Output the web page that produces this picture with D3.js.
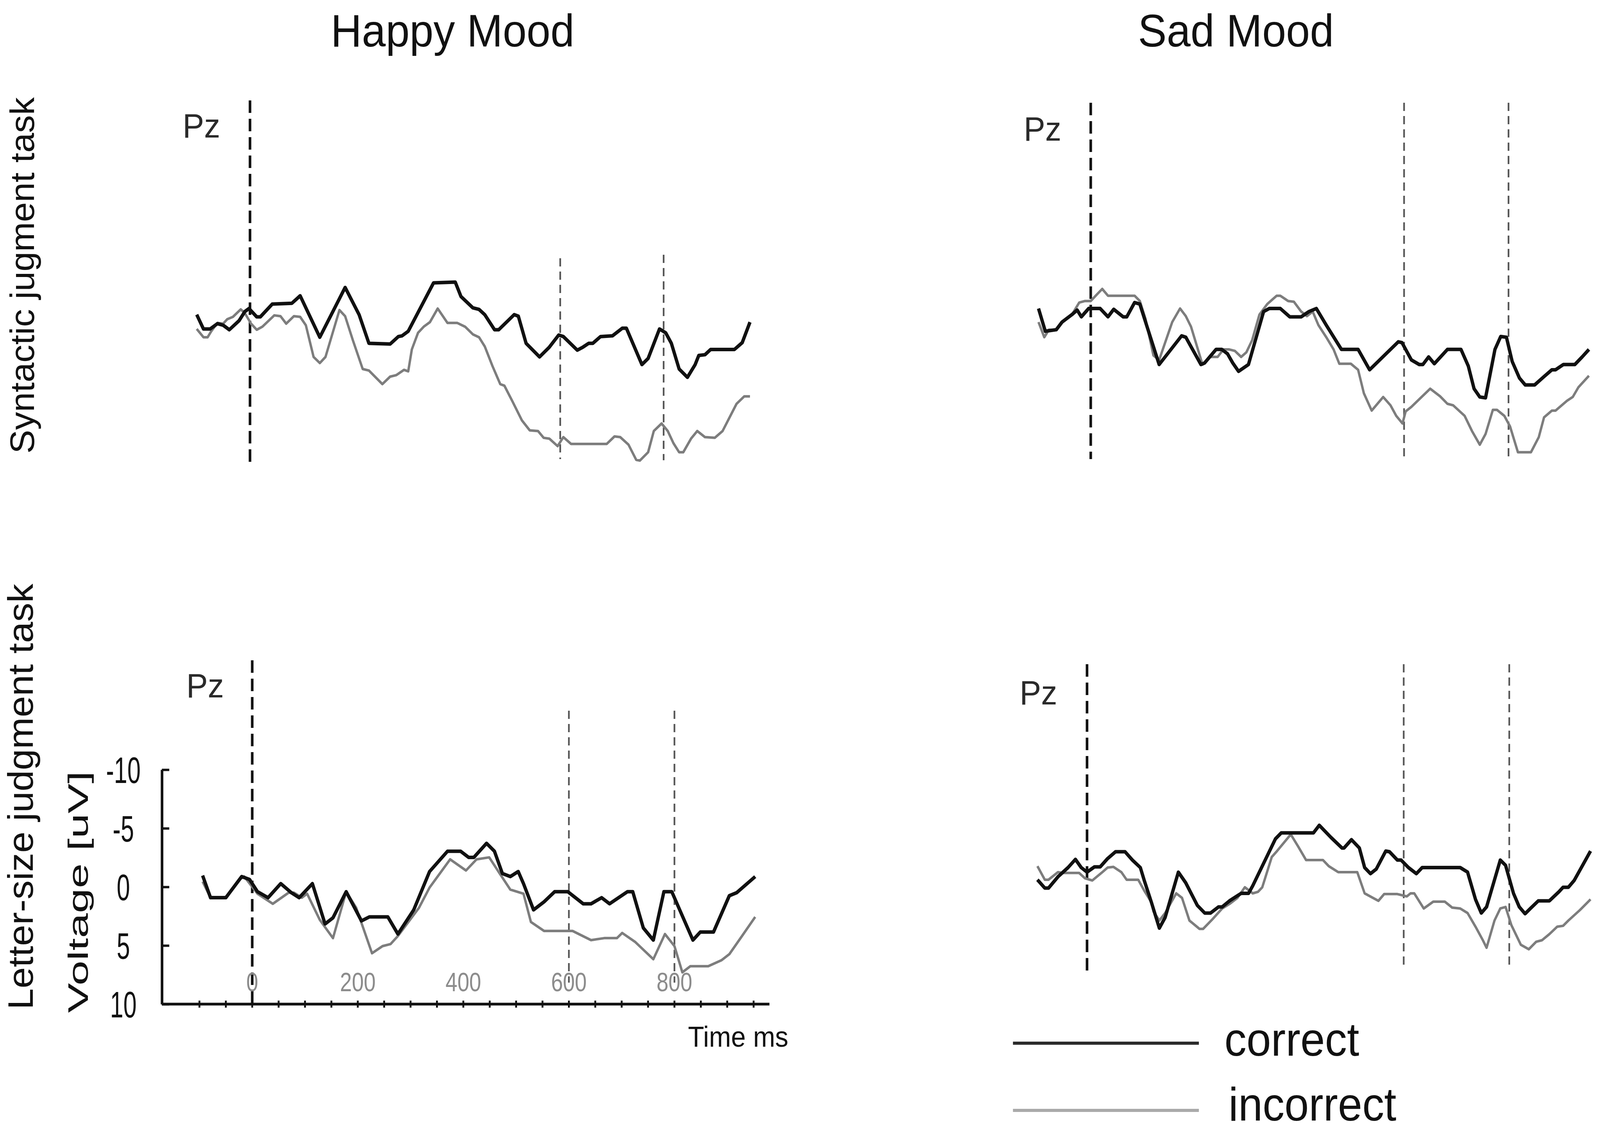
<!DOCTYPE html>
<html>
<head>
<meta charset="utf-8">
<script src="https://cdn.jsdelivr.net/npm/d3@7"></script>
<style>
  html, body { margin: 0; padding: 0; background: #fff; overflow: hidden; }
  svg { display: block; width: 100vw; height: 100vh; }
  text { font-family: "Liberation Sans", Arial, sans-serif; }
</style>
</head>
<body>
<svg id="chart"></svg>
<script>
// event markers (ms) and axis ticks
const markerTimes = [0, 600, 800];
const xTickLabels = [0, 200, 400, 600, 800];
const yTickLabels = [-10, -5, 0, 5, 10];
const moodTitles = ['Happy Mood', 'Sad Mood'];
const taskLabels = ['Syntactic jugment task', 'Letter-size judgment task'];
const legendLabels = ['correct', 'incorrect'];

// [time ms, voltage uV] (negative up)
const happySynCorrect = [[-103,-0.89],[-90,0.33],[-77,0.33],[-63,-0.12],[-52,0.01],[-40,0.4],[-21,-0.38],[-10,-1.15],[-2,-1.41],[13,-0.7],[20,-0.7],[43,-1.79],[81,-1.86],[97,-2.5],[135,1.04],[184,-3.21],[211,-0.89],[230,1.56],[271,1.62],[287,0.98],[294,0.92],[306,0.53],[355,-3.6],[397,-3.67],[408,-2.44],[431,-1.47],[443,-1.34],[454,-0.89],[473,0.4],[481,0.4],[511,-0.89],[519,-0.76],[534,1.56],[560,2.72],[579,1.88],[597,0.85],[606,0.98],[633,2.14],[644,1.88],[655,1.56],[663,1.56],[678,0.98],[701,0.92],[720,0.27],[728,0.27],[758,3.37],[770,2.85],[792,0.33],[804,0.66],[815,1.56],[830,3.75],[846,4.46],[861,3.37],[868,2.59],[880,2.53],[891,2.08],[937,2.08],[952,1.5],[967,-0.25]];
const happySynIncorrect = [[-103,0.33],[-90,1.04],[-82,1.04],[-75,0.53],[-63,-0.18],[-52,-0.12],[-44,-0.5],[-33,-0.7],[-18,-1.34],[-10,-1.02],[2,-0.12],[13,0.4],[24,0.14],[47,-0.83],[59,-0.76],[70,-0.12],[85,-0.76],[97,-0.7],[108,0.01],[123,2.72],[135,3.24],[146,2.72],[173,-1.28],[184,-0.76],[199,1.3],[218,3.75],[230,3.88],[256,5.04],[271,4.4],[283,4.27],[298,3.82],[306,3.95],[313,2.08],[325,0.66],[336,0.14],[348,-0.25],[363,-1.41],[382,-0.18],[401,-0.18],[416,0.14],[431,0.79],[443,1.04],[454,1.82],[469,3.5],[484,5.04],[492,5.17],[507,6.46],[526,8.14],[541,8.98],[557,9.04],[568,9.62],[579,9.69],[595,10.33],[606,9.56],[621,10.14],[690,10.14],[705,9.5],[716,9.56],[732,10.2],[747,11.5],[754,11.56],[770,10.85],[781,9.04],[796,8.4],[808,9.04],[819,10.08],[830,10.85],[838,10.85],[853,9.69],[865,9.04],[880,9.56],[899,9.62],[914,9.04],[941,6.72],[956,6.08],[967,6.08]];

const sadSynCorrect = [[-100,-1.68],[-87,0.26],[-66,0.13],[-55,-0.52],[-36,-1.16],[-26,-1.55],[-18,-0.97],[-4,-1.68],[18,-1.68],[33,-0.97],[44,-1.61],[62,-0.97],[69,-0.97],[84,-2.19],[94,-2.06],[131,3.1],[174,0.65],[182,0.77],[211,3.1],[218,2.97],[240,1.81],[251,1.81],[262,2.19],[272,2.97],[283,3.68],[302,3.1],[331,-1.42],[342,-1.68],[363,-1.68],[381,-0.97],[403,-0.97],[418,-1.42],[432,-1.68],[451,-0.26],[480,1.81],[512,1.81],[534,3.55],[589,1.16],[596,1.23],[614,2.71],[629,3.1],[636,3.1],[647,2.45],[658,3.03],[683,1.81],[709,1.81],[723,3.23],[734,5.16],[745,5.87],[756,5.94],[774,1.81],[785,0.71],[796,0.77],[807,2.84],[821,4.26],[832,4.84],[850,4.84],[868,4.13],[883,3.55],[890,3.55],[905,3.1],[927,3.1],[941,2.45],[954,1.81]];
const sadSynIncorrect = [[-100,-0.52],[-89,0.77],[-80,0.13],[-66,0.13],[-55,-0.52],[-36,-1.16],[-22,-2.19],[-11,-2.32],[0,-2.32],[11,-2.84],[22,-3.35],[33,-2.77],[84,-2.77],[94,-2.32],[105,-0.77],[120,2.32],[131,2.71],[142,1.29],[156,-0.52],[171,-1.68],[182,-1.03],[192,-0.13],[214,3.1],[229,2.45],[243,2.45],[254,1.81],[265,1.81],[276,1.94],[288,2.45],[298,2.06],[309,1.03],[323,-1.16],[338,-2.06],[356,-2.77],[363,-2.77],[378,-2.32],[389,-2.26],[403,-1.42],[414,-1.03],[425,-1.42],[436,-0.26],[451,0.77],[465,1.81],[476,3.03],[498,3.03],[512,3.55],[523,5.55],[538,7.03],[560,5.87],[574,6.58],[585,7.48],[597,8.13],[603,7.1],[614,6.71],[650,5.16],[669,5.81],[683,6.45],[694,6.58],[716,7.48],[730,8.77],[745,9.94],[756,9.03],[770,6.97],[778,6.97],[792,7.48],[803,8.39],[818,10.58],[843,10.58],[858,9.29],[868,7.61],[883,7.03],[890,7.03],[912,6.19],[923,5.87],[934,5.03],[954,4.06]];

const happyLetCorrect = [[-94,-0.97],[-79,0.92],[-50,0.92],[-20,-0.88],[-5,-0.63],[10,0.41],[30,0.92],[54,-0.28],[74,0.49],[89,0.92],[114,-0.28],[138,3.16],[153,2.64],[178,0.41],[207,2.9],[222,2.56],[257,2.56],[276,4.02],[306,1.96],[336,-1.31],[370,-3.04],[395,-3.04],[410,-2.52],[420,-2.52],[444,-3.72],[459,-3.04],[474,-1.14],[489,-0.88],[504,-1.31],[514,-0.28],[533,1.96],[553,1.27],[573,0.41],[598,0.41],[627,1.44],[642,1.44],[662,0.92],[677,1.44],[711,0.41],[721,0.41],[741,3.5],[760,4.54],[780,0.41],[795,0.41],[810,1.96],[835,4.54],[849,3.85],[874,3.85],[904,0.75],[918,0.49],[953,-0.88]];
const happyLetIncorrect = [[-94,-0.45],[-79,0.92],[-50,0.92],[-25,-0.63],[-15,-0.88],[10,0.58],[39,1.44],[69,0.49],[79,0.49],[94,0.92],[104,0.58],[128,2.81],[153,4.37],[178,0.41],[197,1.78],[227,5.66],[247,5.05],[262,4.88],[276,4.19],[316,1.78],[336,0.06],[375,-2.35],[405,-1.4],[425,-2.35],[449,-2.52],[469,-1.14],[489,0.23],[514,0.58],[528,2.99],[553,3.76],[607,3.76],[642,4.54],[667,4.37],[691,4.37],[701,3.93],[726,4.71],[760,6.17],[782,4.02],[800,5.05],[815,7.29],[830,6.77],[864,6.77],[889,6.26],[904,5.74],[928,4.19],[953,2.56]];

const sadLetCorrect = [[-94,0.39],[-80,1.1],[-73,1.1],[-55,0.13],[-36,-0.65],[-22,-1.35],[-11,-0.65],[0,-0.26],[14,-0.71],[25,-0.71],[39,-1.42],[54,-2.0],[72,-2.0],[86,-1.29],[101,-0.65],[108,0.39],[122,2.32],[137,4.52],[148,3.61],[173,-0.26],[187,0.65],[209,2.58],[223,3.23],[234,3.23],[249,2.71],[256,2.71],[270,2.19],[292,1.55],[306,1.55],[314,0.9],[357,-3.1],[368,-3.61],[429,-3.61],[440,-4.26],[462,-3.23],[483,-2.32],[487,-2.32],[501,-3.03],[516,-2.32],[526,-0.65],[537,-0.13],[548,-0.52],[566,-2.06],[573,-2.0],[588,-1.29],[595,-1.29],[609,-0.65],[624,-0.13],[635,-0.65],[707,-0.65],[721,-0.26],[736,2.06],[747,3.23],[757,2.71],[783,-1.29],[793,-0.84],[808,1.55],[819,2.71],[830,3.29],[840,2.84],[855,2.19],[876,2.19],[894,1.42],[902,1.03],[912,1.03],[923,0.45],[954,-2.06]];
const sadLetIncorrect = [[-94,-0.77],[-80,0.39],[-73,0.39],[-55,-0.26],[-47,-0.19],[-15,-0.19],[-4,0.26],[10,0.45],[29,-0.26],[39,-0.65],[50,-0.71],[65,-0.26],[75,0.39],[97,0.39],[108,1.29],[122,2.32],[126,3.1],[137,3.87],[148,3.23],[169,1.55],[180,1.94],[194,3.87],[213,4.58],[220,4.58],[238,3.74],[256,2.84],[270,2.45],[285,1.94],[299,1.03],[314,1.55],[324,1.42],[332,1.03],[350,-1.55],[360,-2.06],[386,-3.48],[400,-2.45],[415,-1.29],[447,-1.29],[458,-0.77],[476,-0.26],[512,-0.26],[526,1.55],[552,2.19],[563,1.61],[588,1.61],[606,1.81],[613,1.55],[620,1.55],[638,2.84],[656,2.26],[678,2.26],[692,2.77],[707,2.84],[721,3.23],[736,4.39],[750,5.55],[757,6.19],[772,3.87],[783,2.84],[793,2.71],[804,4.26],[822,5.94],[837,6.32],[851,5.68],[862,5.55],[876,5.03],[891,4.39],[902,4.32],[912,3.87],[934,2.97],[954,2.06]];

const W = 4320, H = 2905;
// the drawing fills the window whatever its exact size
const svg = d3.select('#chart')
  .attr('viewBox', `0 0 ${W} ${H}`)
  .attr('preserveAspectRatio', 'none');

// layout of the four panels (pixel placement only)
const panels = [
  { correct: happySynCorrect, incorrect: happySynIncorrect, x0: 675, k: 1.396, y0: 832,
    zeroLine: [257, 1183], lateLines: [[661, 1175], [652, 1178]], pz: [493, 352] },
  { correct: sadSynCorrect, incorrect: sadSynIncorrect, x0: 2945, k: 1.41, y0: 840,
    zeroLine: [263, 1175], lateLines: [[263, 1175], [263, 1175]], pz: [2764, 360] },
  { correct: happyLetCorrect, incorrect: happyLetIncorrect, x0: 681, k: 1.425, y0: 2270,
    zeroLine: [1690, 2570], lateLines: [[1819, 2515], [1819, 2515]], pz: [503, 1785], axes: true },
  { correct: sadLetCorrect, incorrect: sadLetIncorrect, x0: 2935, k: 1.425, y0: 2240,
    zeroLine: [1700, 2488], lateLines: [[1700, 2478], [1700, 2478]], pz: [2753, 1803] }
];

const line = d3.line().x(d => d[0]).y(d => d[1]);

panels.forEach(p => {
  const x = d3.scaleLinear().domain([0, 800]).range([p.x0, p.x0 + 800 * p.k]);
  const y = d3.scaleLinear().domain([-10, 10]).range([p.y0 - 300, p.y0 + 300]);
  const g = svg.append('g');

  // event markers
  markerTimes.forEach((t, i) => {
    const ext = i === 0 ? p.zeroLine : p.lateLines[i - 1];
    g.append('line')
      .attr('x1', x(t)).attr('x2', x(t))
      .attr('y1', ext[0]).attr('y2', ext[1])
      .attr('stroke', i === 0 ? '#111' : '#555')
      .attr('stroke-width', i === 0 ? 7 : 4.5)
      .attr('stroke-dasharray', i === 0 ? '32,15' : '21,13');
  });

  g.append('text')
    .attr('x', p.pz[0]).attr('y', p.pz[1])
    .attr('font-size', 87).attr('fill', '#2a2a2a')
    .text('Pz');

  if (p.axes) {
    const axisX = 437;
    const axisY = y(10);
    // voltage axis, ticks pointing inward
    g.append('g')
      .attr('transform', `translate(${axisX},0)`)
      .call(d3.axisRight(y).tickValues(yTickLabels).tickSize(20).tickSizeOuter(0).tickFormat(''))
      .call(a => a.select('.domain').attr('stroke', '#111').attr('stroke-width', 7))
      .call(a => a.selectAll('.tick line').attr('stroke', '#111').attr('stroke-width', 6));

    yTickLabels.forEach(v => {
      g.append('g')
        .attr('transform', `translate(333,${y(v)})`)
        .append('text')
        .attr('transform', 'scale(0.68,1)')
        .attr('text-anchor', 'middle')
        .attr('dy', '0.36em')
        .attr('font-size', 95).attr('fill', '#111')
        .text(v);
    });

    // time axis
    g.append('line')
      .attr('x1', axisX).attr('x2', x(980))
      .attr('y1', axisY).attr('y2', axisY)
      .attr('stroke', '#111').attr('stroke-width', 7);
    g.selectAll('.xtick')
      .data(d3.range(-100, 951, 50))
      .join('line')
      .attr('class', 'xtick')
      .attr('x1', d => x(d)).attr('x2', d => x(d))
      .attr('y1', axisY - 9).attr('y2', axisY + 9)
      .attr('stroke', '#111').attr('stroke-width', 5);

    xTickLabels.forEach(t => {
      g.append('g')
        .attr('transform', `translate(${x(t)},2513)`)
        .append('text')
        .attr('transform', 'scale(0.85,1)')
        .attr('text-anchor', 'middle')
        .attr('dy', '0.36em')
        .attr('font-size', 68).attr('fill', '#8c8c8c')
        .text(t);
    });

    g.append('text')
      .attr('x', 1993).attr('y', 2679)
      .attr('text-anchor', 'middle')
      .attr('font-size', 75).attr('fill', '#111')
      .attr('textLength', 271).attr('lengthAdjust', 'spacingAndGlyphs')
      .text('Time ms');

    g.append('text')
      .attr('transform', 'translate(237,2283) rotate(-90)')
      .attr('text-anchor', 'middle')
      .attr('font-size', 76).attr('fill', '#111')
      .attr('textLength', 619).attr('lengthAdjust', 'spacingAndGlyphs')
      .text('Voltage [uV]');
  }

  const toPx = s => s.map(d => [x(d[0]), y(d[1])]);
  g.append('path')
    .attr('d', line(toPx(p.incorrect)))
    .attr('fill', 'none').attr('stroke', '#7d7d7d').attr('stroke-width', 6.5)
    .attr('stroke-linejoin', 'round');
  g.append('path')
    .attr('d', line(toPx(p.correct)))
    .attr('fill', 'none').attr('stroke', '#111').attr('stroke-width', 9)
    .attr('stroke-linejoin', 'round');
});

// column titles
[[1222, moodTitles[0]], [3337, moodTitles[1]]].forEach(([cx, label]) => {
  svg.append('text')
    .attr('x', cx).attr('y', 119)
    .attr('text-anchor', 'middle')
    .attr('font-size', 116).attr('fill', '#111')
    .text(label);
});

// row labels
svg.append('text')
  .attr('transform', 'translate(92,705) rotate(-90)')
  .attr('text-anchor', 'middle')
  .attr('font-size', 92).attr('fill', '#111')
  .attr('textLength', 912).attr('lengthAdjust', 'spacingAndGlyphs')
  .text(taskLabels[0]);
svg.append('text')
  .attr('transform', 'translate(89,2039) rotate(-90)')
  .attr('text-anchor', 'middle')
  .attr('font-size', 96).attr('fill', '#111')
  .attr('textLength', 1090).attr('lengthAdjust', 'spacingAndGlyphs')
  .text(taskLabels[1]);

// legend
const legend = svg.append('g');
[[2670, '#2b2b2b', 2702, 364], [2842, '#aaaaaa', 2868, 453]].forEach(([ly, col, ty, tl], i) => {
  legend.append('line')
    .attr('x1', 2735).attr('x2', 3237)
    .attr('y1', ly).attr('y2', ly)
    .attr('stroke', col).attr('stroke-width', 8);
  legend.append('text')
    .attr('x', i === 0 ? 3306 : 3317).attr('y', ty)
    .attr('font-size', 120).attr('fill', '#111')
    .attr('textLength', tl).attr('lengthAdjust', 'spacingAndGlyphs')
    .text(legendLabels[i]);
});
</script>
</body>
</html>
